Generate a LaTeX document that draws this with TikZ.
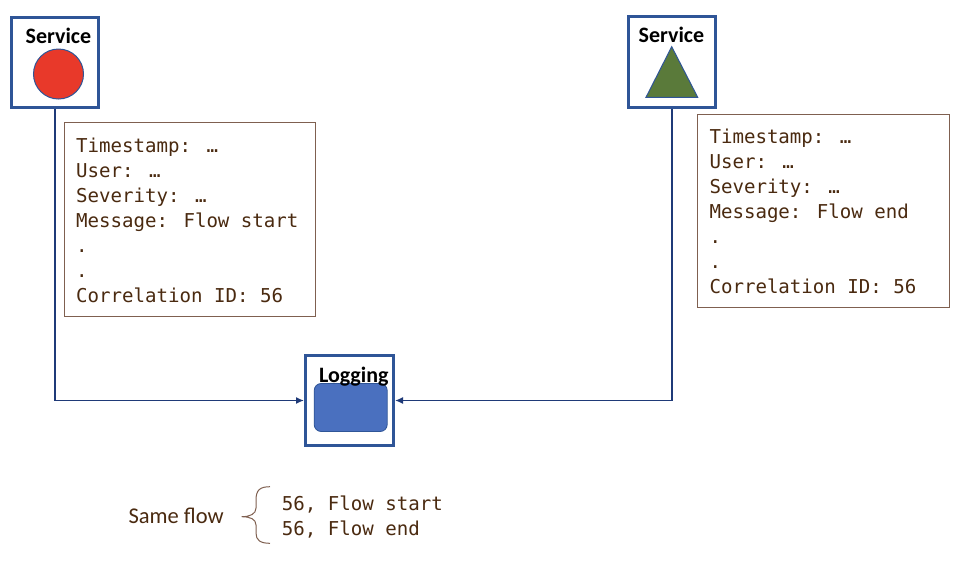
\documentclass[tikz,border=0pt]{standalone}
\usepackage{fontspec}
\setmainfont{Carlito}
\newfontfamily\monofont{DejaVu Sans Mono}
\usetikzlibrary{arrows.meta}
\definecolor{svcblue}{HTML}{2F5597}
\definecolor{navy}{HTML}{1F3A78}
\definecolor{logbrown}{HTML}{7F6050}
\definecolor{txtbrown}{HTML}{4A2A10}
\definecolor{dotred}{HTML}{E8392A}
\definecolor{trigreen}{HTML}{5A7A3A}
\definecolor{logfill}{HTML}{4A70BF}
\begin{document}
\begin{tikzpicture}[x=1pt,y=-1pt,
  svcbox/.style={draw=svcblue, line width=3pt, inner sep=0pt, rectangle},
  svclabel/.style={font=\bfseries\fontsize{22}{26}\selectfont, text=black, inner sep=0pt, anchor=base},
  logbox/.style={draw=logbrown, line width=1pt, inner sep=0pt, rectangle},
  logtext/.style={font=\monofont\fontsize{19.1}{25}\selectfont, text=txtbrown, align=left, inner sep=0pt, anchor=north west},
  conn/.style={draw=navy, line width=1.5pt, -{Latex[length=8pt,width=7pt]}}
]
\useasboundingbox (0,0) rectangle (958,566);
\fill[white] (0,0) rectangle (958,566);

% service boxes
\node[svcbox, minimum width=87.5pt, minimum height=90.5pt] (s1) at (54.75,62.25) {};
\node[svcbox, minimum width=87.5pt, minimum height=91pt] (s2) at (671.75,62) {};
\node[svclabel] (l1) at (58.5,43) {Service};
\node[svclabel] (l2) at (671.5,42.5) {Service};
\node[circle, fill=dotred, draw=svcblue, line width=1pt, minimum size=50pt, inner sep=0pt] (c1) at (58.5,74) {};
\draw[fill=trigreen, draw=svcblue, line width=1pt] (671.7,46.7) -- (646,97.3) -- (697.7,97.3) -- cycle;

% logging
\node[svcbox, minimum width=88pt, minimum height=90pt] (log) at (349.5,400.5) {};
\node[draw=svcblue, fill=logfill, line width=0.8pt, rounded corners=7pt, minimum width=73pt, minimum height=48pt, inner sep=0pt] (lr) at (350.7,407.5) {};
\node[svclabel] (ll) at (353.8,382.7) {Logging};

% connectors
\draw[conn] (s1.south) |- (log.west);
\draw[conn] (s2.south) |- (log.east);

% log records
\node[logbox, minimum width=251.4pt, minimum height=193.3pt] (lb1) at (190,219.35) {};
\node[logtext] (lt1) at (76,134.7) {\rule{0pt}{18pt}Timestamp: …\\User: …\\Severity: …\\Message: Flow start\\.\\.\\Correlation ID: 56};
\node[logbox, minimum width=251.7pt, minimum height=193.7pt] (lb2) at (823.15,210.85) {};
\node[logtext] (lt2) at (709.3,125.3) {\rule{0pt}{18pt}Timestamp: …\\User: …\\Severity: …\\Message: Flow end\\.\\.\\Correlation ID: 56};

% bottom
\node[font=\fontsize{22.5}{26}\selectfont, text=txtbrown, anchor=base west, inner sep=0pt] (sf) at (128.3,523.3) {Same flow};
\draw[draw=logbrown, line width=1pt] (270,486.7) .. controls (260,486.7) and (256,490) .. (256,500) -- (256,508) .. controls (256,514) and (250,516.7) .. (241.7,516.7) .. controls (250,516.7) and (256,519) .. (256,525) -- (256,533) .. controls (256,540) and (260,543.3) .. (270,543.3);
\node[font=\monofont\fontsize{19.1}{24.3}\selectfont, text=txtbrown, align=left, inner sep=0pt, anchor=north west] (fl) at (281.7,492.7) {\rule{0pt}{18pt}56, Flow start\\56, Flow end};
\end{tikzpicture}
\end{document}
